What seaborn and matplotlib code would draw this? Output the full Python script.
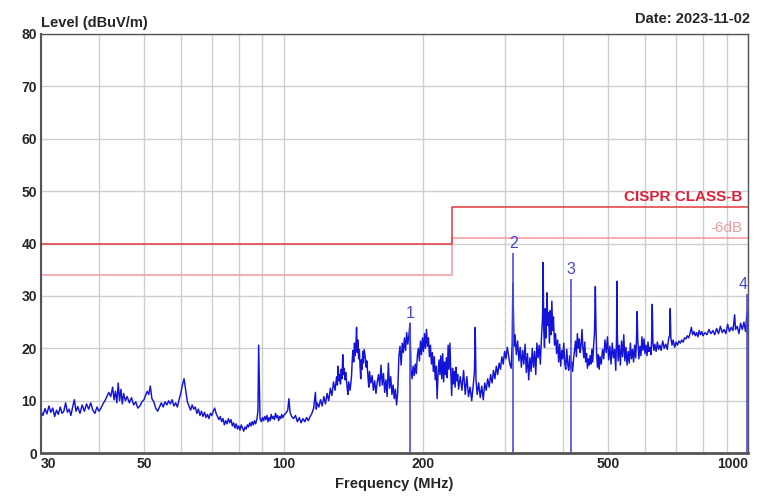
import matplotlib
matplotlib.use("Agg")
import matplotlib.pyplot as plt
import matplotlib.ticker as mticker
import numpy as np
import pandas as pd
import seaborn as sns

# ---- data (frequency MHz, level dBuV/m) ----
band_30_62 = [
    (30.0, 8.0), (30.3, 7.2), (30.6, 8.5), (30.9, 7.5), (31.2, 9.0), (31.5, 7.8), (31.8, 8.6),
    (32.1, 7.0), (32.4, 8.2), (32.7, 7.4), (33.0, 8.8), (33.3, 7.6), (33.6, 8.0), (33.9, 9.6),
    (34.2, 7.8), (34.5, 8.4), (34.8, 7.2), (35.1, 8.8), (35.4, 10.2), (35.7, 8.0), (36.0, 8.9),
    (36.4, 7.6), (36.8, 9.2), (37.2, 8.0), (37.6, 9.4), (38.0, 8.4), (38.4, 9.6), (38.8, 8.2),
    (39.2, 7.6), (39.6, 8.8), (40.0, 8.0), (40.4, 8.6), (40.8, 9.4), (41.2, 10.0), (41.6, 10.8),
    (42.0, 11.6), (42.4, 10.8), (42.8, 12.6), (43.1, 10.2), (43.4, 11.8), (43.7, 9.6), (44.0, 13.4),
    (44.3, 10.0), (44.6, 12.2), (44.9, 9.4), (45.2, 11.4), (45.6, 10.0), (46.0, 10.8), (46.5, 9.6),
    (47.0, 10.6), (47.5, 9.2), (48.0, 9.8), (48.5, 8.6), (49.0, 9.0), (49.5, 9.8), (50.0, 10.2),
    (50.4, 11.0), (50.8, 11.8), (51.2, 11.2), (51.6, 12.8), (52.0, 10.4), (52.5, 9.8), (53.0, 8.6),
    (53.5, 8.0), (54.0, 8.8), (54.5, 9.6), (55.0, 8.8), (55.5, 9.8), (56.0, 9.2), (56.5, 10.0),
    (57.0, 9.4), (57.5, 10.2), (58.0, 9.0), (58.5, 9.6), (59.0, 8.8), (59.5, 10.2), (60.0, 11.4),
    (60.5, 13.0), (61.0, 14.2), (61.5, 12.0), (62.0, 9.8),
]
band_62_124 = [
    (62.5, 9.0), (63.0, 8.2), (63.5, 9.2), (64.0, 8.4), (64.5, 8.8), (65.0, 7.6), (65.5, 8.4),
    (66.0, 7.2), (66.5, 8.0), (67.0, 7.0), (67.5, 7.8), (68.0, 6.8), (68.5, 7.4), (69.0, 6.6),
    (69.5, 7.6), (70.0, 7.2), (70.5, 8.0), (71.0, 8.6), (71.5, 7.6), (72.0, 7.0), (72.5, 6.4),
    (73.0, 7.0), (73.5, 6.0), (74.0, 6.6), (74.5, 5.4), (75.0, 6.2), (75.5, 5.6), (76.0, 6.6),
    (76.5, 5.8), (77.0, 6.4), (77.5, 5.2), (78.0, 5.8), (78.5, 4.8), (79.0, 5.6), (79.5, 4.6),
    (80.0, 5.2), (80.5, 4.4), (81.0, 5.4), (81.5, 4.8), (82.0, 4.2), (82.5, 5.0), (83.0, 4.6),
    (83.5, 5.4), (84.0, 5.0), (84.5, 5.8), (85.0, 5.2), (85.5, 6.0), (86.0, 5.4), (86.5, 6.2),
    (87.0, 5.6), (87.5, 6.4), (88.0, 8.0), (88.3, 20.6), (88.6, 14.0), (88.9, 6.6), (89.5, 6.0),
    (90.0, 6.8), (90.5, 6.2), (91.0, 7.0), (91.5, 6.4), (92.0, 7.2), (92.5, 6.0), (93.0, 6.8),
    (93.5, 6.2), (94.0, 7.4), (94.5, 6.6), (95.0, 7.0), (95.5, 6.4), (96.0, 7.6), (96.5, 6.8),
    (97.0, 7.2), (97.5, 6.2), (98.0, 7.0), (98.5, 6.6), (99.0, 7.4), (99.5, 6.8), (100.0, 7.2),
    (101.0, 7.6), (102.0, 8.2), (102.6, 10.4), (103.2, 7.8), (104.0, 7.0), (105.0, 6.6),
    (106.0, 7.2), (107.0, 6.0), (108.0, 6.8), (109.0, 5.8), (110.0, 6.6), (111.0, 6.0),
    (112.0, 6.8), (113.0, 6.2), (114.0, 7.0), (115.0, 7.6), (116.0, 8.6), (117.0, 11.6),
    (117.5, 8.4), (118.0, 9.6), (119.0, 8.8), (120.0, 10.2), (121.0, 9.0), (122.0, 10.8),
    (123.0, 9.4), (124.0, 11.4),
]
band_124_250 = [
    (125.0, 10.0), (126.0, 12.4), (127.0, 11.0), (128.0, 13.6), (129.0, 12.0), (130.0, 14.6),
    (130.5, 13.0), (131.0, 16.6), (131.5, 13.8), (132.0, 15.0), (132.5, 13.2), (133.0, 16.0),
    (133.5, 14.2), (134.0, 18.8), (134.5, 15.0), (135.0, 16.2), (135.5, 14.0), (136.0, 15.4),
    (137.0, 12.4), (137.5, 11.2), (138.0, 13.6), (139.0, 12.0), (140.0, 14.8), (140.5, 18.0),
    (141.0, 19.6), (141.5, 17.4), (142.0, 21.0), (142.5, 18.6), (143.0, 20.4), (143.5, 24.0),
    (144.0, 19.2), (144.5, 21.6), (145.0, 18.0), (145.5, 19.8), (146.0, 16.6), (146.5, 14.2),
    (147.0, 17.8), (147.5, 16.0), (148.0, 19.4), (148.5, 17.2), (149.0, 19.8), (150.0, 18.0),
    (150.5, 16.4), (151.0, 17.6), (152.0, 14.0), (152.5, 12.6), (153.0, 15.6), (154.0, 13.4),
    (155.0, 14.8), (156.0, 12.0), (157.0, 13.8), (158.0, 11.4), (159.0, 13.6), (160.0, 15.0),
    (161.0, 12.8), (162.0, 16.8), (163.0, 13.0), (164.0, 15.2), (165.0, 11.6), (166.0, 14.0),
    (167.0, 10.8), (168.0, 17.2), (169.0, 12.4), (170.0, 14.6), (171.0, 11.2), (172.0, 13.0),
    (173.0, 10.4), (174.0, 12.2), (175.0, 9.2), (176.0, 11.6), (177.0, 18.4), (178.0, 20.4),
    (179.0, 16.8), (180.0, 21.0), (181.0, 19.2), (182.0, 22.0), (183.0, 19.6), (184.0, 23.0),
    (185.0, 20.8), (186.0, 22.4), (187.0, 24.8), (188.0, 16.0), (189.0, 14.2), (190.0, 16.6),
    (191.0, 14.8), (192.0, 17.0), (193.0, 15.2), (194.0, 18.6), (195.0, 20.0), (196.0, 17.6),
    (197.0, 21.4), (198.0, 18.8), (199.0, 22.0), (200.0, 19.4), (201.0, 22.8), (202.0, 20.0),
    (203.0, 23.6), (204.0, 20.4), (205.0, 22.0), (206.0, 18.4), (207.0, 20.6), (208.0, 17.0),
    (209.0, 19.2), (210.0, 15.6), (211.0, 18.4), (212.0, 14.0), (213.0, 16.6), (214.0, 10.4),
    (215.0, 15.2), (216.0, 17.8), (217.0, 15.0), (218.0, 18.6), (219.0, 14.2), (220.0, 19.0),
    (221.0, 13.6), (222.0, 17.4), (223.0, 15.0), (224.0, 18.2), (225.0, 14.4), (226.0, 20.6),
    (227.0, 16.0), (228.0, 21.0), (229.0, 15.4), (230.0, 11.0), (231.0, 16.2), (232.0, 13.2),
    (233.0, 15.6), (234.0, 12.6), (235.0, 16.4), (236.0, 13.8), (237.0, 15.0), (238.0, 12.2),
    (240.0, 14.6), (242.0, 12.0), (244.0, 15.8), (246.0, 11.2), (248.0, 14.6), (250.0, 10.8),
]
band_250_455 = [
    (252, 12.6), (254, 10.0), (256, 13.0), (257.5, 15.6), (258.5, 24.0), (259.5, 14.0),
    (261, 11.2), (263, 13.4), (265, 10.6), (267, 12.8), (269, 10.2), (271, 13.4), (273, 12.0),
    (275, 14.2), (277, 12.6), (279, 15.0), (281, 13.4), (283, 15.8), (285, 14.2), (287, 16.6),
    (289, 15.0), (291, 17.2), (293, 16.0), (295, 18.4), (297, 17.0), (299, 19.4), (301, 18.0),
    (303, 20.2), (305, 18.6), (307, 17.0), (309, 16.2), (310.5, 21.0), (311.5, 32.4),
    (312.5, 26.0), (313.5, 20.4), (315, 22.6), (317, 18.8), (319, 21.4), (321, 17.6),
    (323, 20.2), (325, 16.4), (327, 19.6), (329, 17.0), (331, 20.8), (333, 15.4), (335, 19.0),
    (337, 14.0), (339, 18.2), (341, 15.6), (343, 20.0), (345, 16.4), (347, 19.4), (349, 15.0),
    (351, 21.0), (353, 18.2), (355, 20.6), (357, 17.0), (359, 22.0), (361, 26.0), (362, 36.4),
    (363, 24.0), (364.5, 20.2), (366, 27.6), (367.5, 22.0), (369, 30.6), (370.5, 24.4),
    (372, 26.8), (373.5, 21.0), (375, 27.2), (376.5, 22.6), (378, 29.0), (379.5, 23.4),
    (381, 26.0), (383, 20.6), (385, 22.8), (387, 19.0), (389, 21.6), (391, 17.4), (393, 20.8),
    (395, 16.6), (397, 19.6), (399, 18.0), (401, 21.0), (403, 17.2), (405, 16.0), (407, 19.8),
    (409, 17.0), (411, 15.8), (413, 18.6), (415, 16.2), (417, 17.4), (419, 15.6), (421, 18.0),
    (423, 19.6), (425, 21.4), (427, 18.4), (429, 22.8), (431, 20.0), (433, 21.8), (435, 19.2),
    (437, 20.6), (439, 23.6), (441, 20.0), (443, 18.2), (445, 21.2), (447, 17.4), (449, 19.0),
    (451, 16.2), (453, 18.0), (455, 16.8),
]
band_455_1000 = [
    (457, 18.6), (459, 17.0), (461, 19.8), (463, 17.4), (465, 20.6), (467, 22.8), (469, 31.8),
    (470.5, 24.0), (472, 19.0), (474, 16.4), (476, 18.8), (478, 16.0), (480, 18.4), (483, 17.0),
    (486, 19.8), (489, 18.0), (492, 21.6), (495, 19.2), (498, 22.2), (501, 17.8), (504, 20.4),
    (507, 17.0), (510, 21.0), (513, 18.2), (516, 19.8), (519, 15.8), (521, 22.0), (522, 32.8),
    (523, 23.0), (525, 17.6), (528, 20.6), (531, 16.8), (534, 21.4), (537, 18.4), (540, 22.6),
    (543, 17.6), (546, 20.2), (549, 16.8), (552, 19.4), (555, 17.2), (558, 21.0), (561, 18.0),
    (564, 19.8), (567, 17.4), (570, 20.6), (573, 18.2), (575, 21.2), (577, 27.0), (579, 21.4),
    (582, 18.0), (585, 20.4), (588, 18.6), (591, 22.2), (594, 19.6), (597, 21.8), (600, 19.0),
    (603, 20.6), (606, 18.6), (609, 21.2), (612, 19.4), (615, 20.2), (618, 18.8), (620, 21.6),
    (622, 28.4), (624, 21.0), (627, 19.6), (630, 20.8), (634, 19.4), (638, 21.2), (642, 19.8),
    (646, 20.6), (650, 19.6), (655, 21.4), (660, 20.0), (665, 20.8), (670, 19.8), (675, 22.0),
    (678, 22.4), (680, 27.6), (682, 22.0), (686, 20.6), (690, 21.6), (695, 20.2), (700, 21.2),
    (705, 20.6), (710, 21.4), (715, 21.0), (720, 21.6), (725, 21.2), (730, 22.0), (735, 21.8),
    (740, 22.4), (745, 22.0), (750, 22.8), (755, 24.0), (760, 22.6), (765, 23.2), (770, 22.4),
    (775, 23.0), (780, 22.2), (785, 23.4), (790, 22.6), (795, 23.2), (800, 22.4), (808, 23.0),
    (816, 22.6), (824, 23.6), (832, 22.8), (840, 23.4), (848, 22.6), (856, 23.8), (864, 22.8),
    (872, 24.2), (880, 23.0), (888, 23.6), (896, 22.8), (904, 24.6), (912, 23.2), (920, 24.0),
    (928, 23.4), (936, 26.4), (940, 23.6), (948, 24.2), (956, 22.8), (964, 24.8), (972, 23.6),
    (980, 25.0), (988, 23.2), (995, 27.0), (1000, 22.6),
]

# CISPR class B limit and -6dB margin
limit_freq = [30, 230, 230, 1000]
limit_level = [40, 40, 47, 47]
margin_level = [34, 34, 41, 41]

# marker peaks
marker_id = ["1", "2", "3", "4"]
marker_freq = [187.4, 312.0, 416.0, 997.0]
marker_level = [24.8, 38.2, 33.2, 30.4]

x_ticks = [30, 50, 100, 200, 500, 1000]
y_ticks = [0, 10, 20, 30, 40, 50, 60, 70, 80]

trace = pd.DataFrame(band_30_62 + band_62_124 + band_124_250 + band_250_455 + band_455_1000,
                     columns=["freq", "level"])
limits = pd.DataFrame({"freq": limit_freq, "limit": limit_level, "margin": margin_level})

sns.set_style("white")
plt.rcParams["font.family"] = ["Liberation Sans", "DejaVu Sans"]

fig = plt.figure(figsize=(7.66, 4.98), dpi=100)
ax = fig.add_axes([0.0535, 0.090, 0.923, 0.842])

# grid first so it sits under everything
ax.set_xscale("log")
ax.set_xlim(30, 1000)
ax.set_ylim(0, 80)
ax.xaxis.set_major_locator(mticker.FixedLocator(x_ticks))
ax.xaxis.set_minor_locator(mticker.LogLocator(base=10, subs=np.arange(2, 10)))
ax.xaxis.set_minor_formatter(mticker.NullFormatter())
ax.set_yticks(y_ticks)
ax.grid(True, which="both", axis="x", color="#cfcfcf", lw=1.0)
ax.grid(True, which="major", axis="y", color="#cfcfcf", lw=1.0)
ax.set_axisbelow(True)

sns.lineplot(data=limits, x="freq", y="margin", ax=ax, color="#f29a9a", lw=1.1,
             estimator=None, sort=False)
sns.lineplot(data=limits, x="freq", y="limit", ax=ax, color="#e23a3a", lw=1.1,
             estimator=None, sort=False)
sns.lineplot(data=trace, x="freq", y="level", ax=ax, color="#1414d8", lw=1.05,
             estimator=None, sort=False)

ax.vlines(marker_freq, 0, marker_level, color="#4a4ae8", lw=1.2)
for mid, mf, ml in zip(marker_id, marker_freq, marker_level):
    ax.text(mf, ml + 0.4, mid, color="#4646d6", fontsize=11.5,
            ha="right" if mid == "4" else "center", va="bottom")

ax.text(0.992, 47.6, "CISPR CLASS-B", transform=ax.get_yaxis_transform(),
        color="#e0203a", fontsize=11, fontweight="bold", ha="right", va="bottom")
ax.text(0.992, 41.6, "-6dB", transform=ax.get_yaxis_transform(),
        color="#f09a9a", fontsize=11, ha="right", va="bottom")

ax.set_xlabel("Frequency (MHz)", fontsize=10.5, fontweight="bold", labelpad=4)
ax.set_ylabel("")
ax.set_xticklabels([str(t) for t in x_ticks])
for lab in ax.get_xticklabels():
    lab.set_fontweight("bold")
    lab.set_fontsize(10)
xl = ax.get_xticklabels()
xl[0].set_ha("left")
xl[-1].set_ha("right")
for lab in ax.get_yticklabels():
    lab.set_fontweight("bold")
    lab.set_fontsize(10)
ax.tick_params(axis="both", which="both", length=0, pad=3)

for side in ["left", "bottom", "right", "top"]:
    ax.spines[side].set_visible(True)
    ax.spines[side].set_color("#555555")
    ax.spines[side].set_linewidth(1.0)
ax.spines["bottom"].set_linewidth(2.0)
ax.spines["left"].set_linewidth(1.5)

fig.text(0.0535, 0.940, "Level (dBuV/m)", fontsize=10.5, fontweight="bold", ha="left", va="bottom")
fig.text(0.979, 0.948, "Date: 2023-11-02", fontsize=10.5, fontweight="bold", ha="right", va="bottom")

fig.savefig("out.png", dpi=100)
